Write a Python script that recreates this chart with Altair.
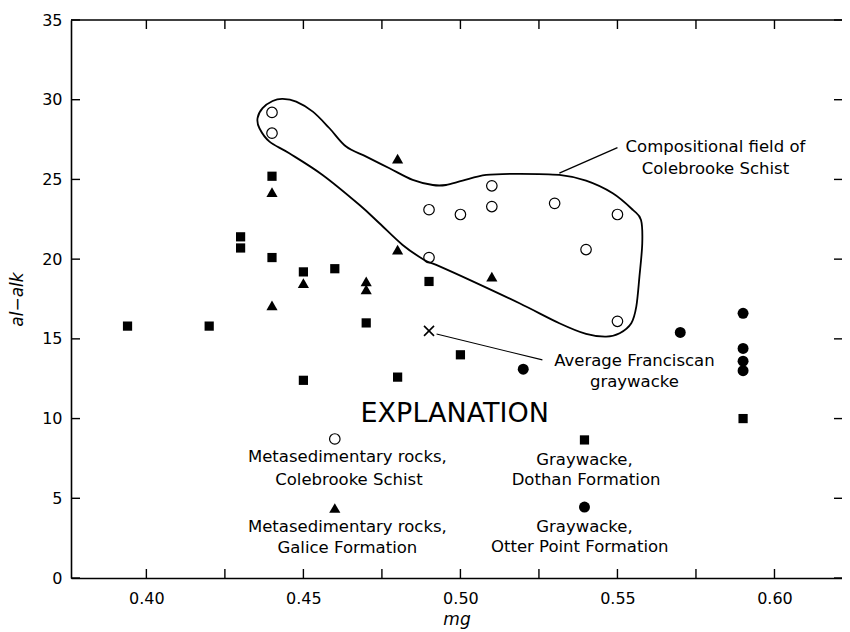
import altair as alt
import pandas as pd

# ---- data ----
dothan_mg = [0.394, 0.420, 0.430, 0.430, 0.440, 0.440, 0.450, 0.460, 0.490, 0.470, 0.450, 0.480, 0.500, 0.590]
dothan_alk = [15.8, 15.8, 21.4, 20.7, 25.2, 20.1, 19.2, 19.4, 18.6, 16.0, 12.4, 12.6, 14.0, 10.0]

galice_mg = [0.44, 0.44, 0.45, 0.47, 0.47, 0.48, 0.48, 0.51]
galice_alk = [24.2, 17.1, 18.5, 18.6, 18.1, 26.3, 20.6, 18.9]

colebrooke_mg = [0.44, 0.44, 0.49, 0.50, 0.51, 0.51, 0.53, 0.55, 0.54, 0.49, 0.55]
colebrooke_alk = [29.2, 27.9, 23.1, 22.8, 24.6, 23.3, 23.5, 22.8, 20.6, 20.1, 16.1]

otter_mg = [0.52, 0.57, 0.59, 0.59, 0.59, 0.59]
otter_alk = [13.1, 15.4, 16.6, 14.4, 13.6, 13.0]

franciscan_mg = [0.49]
franciscan_alk = [15.5]

# outline of the compositional field of the Colebrooke Schist
field_mg = [0.4354, 0.4370, 0.4402, 0.4434, 0.4477, 0.4530, 0.4583, 0.4636, 0.4700, 0.4774,
            0.4848, 0.4912, 0.4954, 0.5007, 0.5082, 0.5188, 0.5315, 0.5400, 0.5485, 0.5549,
            0.5575, 0.5579, 0.5570, 0.5560, 0.5544, 0.5507, 0.5464, 0.5400, 0.5315, 0.5188,
            0.5029, 0.4923, 0.4885, 0.4816, 0.4742, 0.4678, 0.4561, 0.4455, 0.4392, 0.4360]
field_alk = [28.84, 29.47, 29.92, 30.05, 29.88, 29.25, 28.21, 27.06, 26.43, 25.70,
             24.97, 24.65, 24.65, 24.92, 25.28, 25.35, 25.28, 24.92, 24.13, 23.09,
             22.46, 21.00, 18.90, 17.02, 15.98, 15.35, 15.14, 15.31, 15.98, 17.23,
             18.70, 19.64, 19.95, 20.89, 22.25, 23.41, 25.28, 26.64, 27.37, 28.21]

# leader lines
leader_field_mg = [0.5315, 0.5500]
leader_field_alk = [25.40, 27.00]
leader_avg_mg = [0.4924, 0.5261]
leader_avg_alk = [15.30, 13.68]

# annotation and explanation texts
note_text = ["Compositional field of", "Colebrooke Schist", "Average Franciscan", "graywacke",
             "Metasedimentary rocks,", "Colebrooke Schist", "Metasedimentary rocks,", "Galice Formation",
             "Graywacke,", "Dothan Formation", "Graywacke,", "Otter Point Formation"]
note_mg = [0.5812, 0.5812, 0.5554, 0.5554,
           0.4640, 0.4645, 0.4640, 0.4640,
           0.5395, 0.5400, 0.5395, 0.5380]
note_alk = [27.04, 25.66, 13.61, 12.30,
            7.56, 6.15, 3.17, 1.88,
            7.40, 6.17, 3.17, 1.94]

explanation_text = ["EXPLANATION"]
explanation_mg = [0.4982]
explanation_alk = [10.29]

# explanation symbols
key_colebrooke_mg, key_colebrooke_alk = [0.46], [8.72]
key_galice_mg, key_galice_alk = [0.46], [4.39]
key_dothan_mg, key_dothan_alk = [0.5395], [8.66]
key_otter_mg, key_otter_alk = [0.5395], [4.45]

x_tick_values = [0.400, 0.425, 0.450, 0.475, 0.500, 0.525, 0.550, 0.575, 0.600]
x_label_values = [0.40, 0.45, 0.50, 0.55, 0.60]
y_tick_values = [0, 5, 10, 15, 20, 25, 30, 35]

X_DOMAIN = [0.376, 0.6215]
Y_DOMAIN = [0, 35]
W, H = 771, 558
FONT = "DejaVu Sans"

# ---- scales / axes ----
xscale = alt.Scale(domain=X_DOMAIN, nice=False, zero=False)
yscale = alt.Scale(domain=Y_DOMAIN, nice=False, zero=False)

x_axis = alt.Axis(values=x_label_values, format=".2f", ticks=False, grid=False,
                  domainColor="black", domainWidth=1.6,
                  labelFont=FONT, labelFontSize=16, labelColor="black", labelPadding=12,
                  title="mg", titleFont=FONT, titleFontSize=17, titleFontStyle="italic",
                  titleFontWeight="normal", titleColor="black", titlePadding=5)
y_axis = alt.Axis(values=y_tick_values, ticks=False, grid=False,
                  domainColor="black", domainWidth=1.6,
                  labelFont=FONT, labelFontSize=16, labelColor="black", labelPadding=9,
                  title="al\u2212alk", titleFont=FONT, titleFontSize=17, titleFontStyle="italic",
                  titleFontWeight="normal", titleColor="black", titlePadding=15)

X = alt.X("mg:Q", scale=xscale, axis=x_axis)
Y = alt.Y("alk:Q", scale=yscale, axis=y_axis)


def pts(mg, alk):
    return pd.DataFrame({"mg": mg, "alk": alk})


def enc(chart):
    return chart.encode(x=X, y=Y)


SQ, TRI, CIR, OCIR = 85, 125, 120, 110

# field outline
field_df = pd.DataFrame({"mg": field_mg, "alk": field_alk, "i": list(range(len(field_mg)))})
field = alt.Chart(field_df).mark_line(color="black", strokeWidth=1.8, interpolate="cardinal-closed").encode(
    x=X, y=Y, order="i:Q")

lead1 = enc(alt.Chart(pts(leader_field_mg, leader_field_alk)).mark_line(color="black", strokeWidth=1.3))
lead2 = enc(alt.Chart(pts(leader_avg_mg, leader_avg_alk)).mark_line(color="black", strokeWidth=1.1))

dothan = enc(alt.Chart(pts(dothan_mg + key_dothan_mg, dothan_alk + key_dothan_alk)).mark_point(
    shape="square", filled=True, color="black", size=SQ, opacity=1))
galice = enc(alt.Chart(pts(galice_mg + key_galice_mg, galice_alk + key_galice_alk)).mark_point(
    shape="triangle-up", filled=True, color="black", size=TRI, opacity=1))
colebrooke = enc(alt.Chart(pts(colebrooke_mg + key_colebrooke_mg, colebrooke_alk + key_colebrooke_alk)).mark_point(
    shape="circle", filled=False, color="black", size=OCIR, strokeWidth=1.2, opacity=1))
otter = enc(alt.Chart(pts(otter_mg + key_otter_mg, otter_alk + key_otter_alk)).mark_point(
    shape="circle", filled=True, color="black", size=CIR, opacity=1))
franciscan = enc(alt.Chart(pts(franciscan_mg, franciscan_alk)).mark_point(
    shape="M-1,-1L1,1M-1,1L1,-1", filled=False, color="black", size=100, strokeWidth=1.6, opacity=1))

notes_df = pd.DataFrame({"mg": note_mg, "alk": note_alk, "t": note_text})
notes = enc(alt.Chart(notes_df).mark_text(font=FONT, fontSize=16.5, color="black",
                                          align="center", baseline="middle")).encode(text="t:N")
expl_df = pd.DataFrame({"mg": explanation_mg, "alk": explanation_alk, "t": explanation_text})
expl = enc(alt.Chart(expl_df).mark_text(font=FONT, fontSize=27, color="black",
                                        align="center", baseline="middle")).encode(text="t:N")

# inward tick marks on all four sides, and top frame line
xt = pd.DataFrame({"mg": x_tick_values})
yt = pd.DataFrame({"alk": y_tick_values})
tick_bottom = alt.Chart(xt).mark_rule(color="black", strokeWidth=1.4).encode(
    x=X, y=alt.value(H), y2=alt.value(H - 9))
tick_top = alt.Chart(xt).mark_rule(color="black", strokeWidth=1.4).encode(
    x=X, y=alt.value(0), y2=alt.value(9))
tick_left = alt.Chart(yt).mark_rule(color="black", strokeWidth=1.4).encode(
    y=Y, x=alt.value(0), x2=alt.value(9))
tick_right = alt.Chart(yt).mark_rule(color="black", strokeWidth=1.4).encode(
    y=Y, x=alt.value(W), x2=alt.value(W - 8))
top_line = alt.Chart(pd.DataFrame({"k": [0]})).mark_rule(color="black", strokeWidth=1.6).encode(
    x=alt.value(0), x2=alt.value(W), y=alt.value(0))

chart = alt.layer(
    field, lead1, lead2, dothan, galice, colebrooke, otter, franciscan, notes, expl,
    tick_bottom, tick_top, tick_left, tick_right, top_line
).properties(
    width=W, height=H,
    autosize=alt.AutoSizeParams(type="none"),
    padding={"left": 63, "top": 12, "right": 0, "bottom": 54},
    background="white",
).configure_view(stroke=None)

chart.save("out.html", embed_options={"renderer": "svg", "actions": False})
